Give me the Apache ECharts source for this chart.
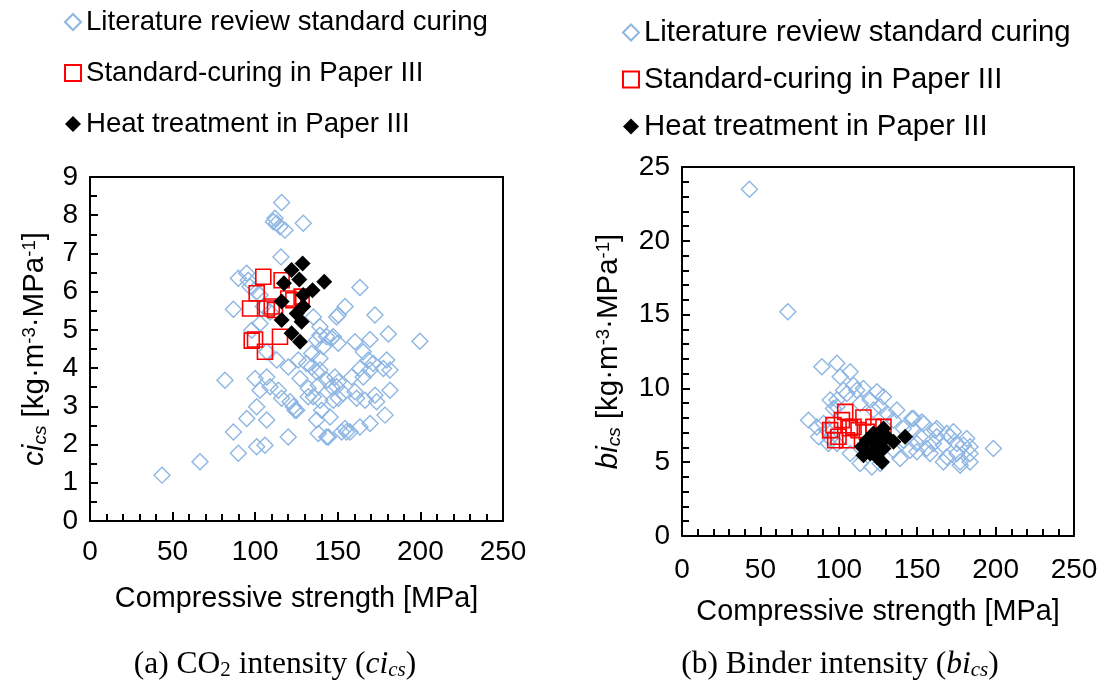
<!DOCTYPE html>
<html>
<head>
<meta charset="utf-8">
<script src="https://cdn.jsdelivr.net/npm/echarts@6/dist/echarts.min.js"></script>
<style>html,body{margin:0;padding:0;background:#fff}#c{width:1105px;height:686px}</style>
</head>
<body>
<div id="c"></div>
<script>
// ---- data ----
const seriesNames = ['Literature review standard curing', 'Standard-curing in Paper III', 'Heat treatment in Paper III'];
const xTicksMax = 250;

// (a) CO2 intensity: [compressive strength MPa, ci_cs]
const ciLiterature = [
  [43.6,1.2],[66.6,1.55],[81.7,3.68],[86.8,2.33],[89.8,1.77],[86.8,5.54],[89.8,6.35],[94.8,6.48],[95.8,6.3],[96.9,6.13],
  [100.9,6.0],[102.9,5.91],[104.9,5.61],[97.9,4.99],[102.9,5.17],[109,5.47],[94.9,2.68],[99.9,3.73],[100.9,2.99],[100.9,1.94],
  [102.9,3.42],[105.9,1.98],[107,3.77],[107,2.64],[107,4.43],[109,3.51],[112,7.92],[111,7.83],[113,7.79],[115,7.7],
  [118,7.61],[116,8.33],[129.1,7.79],[115.6,6.91],[113,4.21],[114,3.42],[116,3.21],[120,4.03],[120,2.2],[121.1,3.12],
  [123.1,2.99],[124.1,2.9],[125.1,2.9],[126.1,4.21],[127.1,3.73],[131.1,4.12],[132.1,3.47],[132.1,3.25],[134.2,4.03],[134.2,4.38],
  [135.2,5.34],[135.2,3.25],[137.2,4.73],[137.2,3.9],[137.2,2.64],[138.2,3.55],[138.2,2.29],[139.2,5.08],[139.2,4.25],[139.2,3.95],
  [139.2,3.16],[139.2,4.86],[140.2,2.9],[141.2,4.56],[143.3,4.82],[143.3,3.68],[143.3,2.2],[144.3,2.2],[145.3,2.72],[146.3,4.78],
  [146.3,3.51],[147.3,4.82],[147.3,3.16],[148.3,3.77],[149.3,5.34],[149.3,3.51],[150.3,4.65],[150.3,3.64],[150.3,3.21],[150.3,5.39],
  [152.3,2.33],[153.3,3.34],[154.4,2.42],[154.4,5.61],[155.3,2.33],[157.4,2.33],[158.4,3.77],[160.4,4.69],[160.4,3.38],[161.4,3.21],
  [163.4,3.99],[163.4,2.46],[163.4,6.11],[165.4,4.43],[165.4,3.77],[166.5,3.16],[168.5,4.21],[169.5,4.75],[169.5,3.95],[169.5,2.55],
  [171.5,4.12],[172.5,5.39],[172.5,3.29],[173.5,3.12],[177.6,3.99],[178.6,2.77],[179.6,4.21],[180.6,4.89],[181.6,3.95],[181.6,3.42],
  [199.7,4.7]
];
const ciStandard = [
  [104.9,6.39],[116,6.3],[100.9,5.96],[96.9,5.56],[107,5.56],[110,5.61],[112,5.52],[120,5.82],[123.1,5.78],[128.1,5.87],
  [99.9,4.75],[97.9,4.72],[105.9,4.43],[115,4.82]
];
const ciHeat = [
  [128.7,6.74],[122,6.57],[126.7,6.32],[117.4,6.22],[141.8,6.26],[134.7,6.04],[129.1,5.91],[116,5.74],[129.1,5.61],[125.1,5.43],
  [116,5.26],[128.1,5.21],[122,4.91],[127.1,4.69]
];

// (b) Binder intensity: [compressive strength MPa, bi_cs]
const biLiterature = [
  [43,23.5],[67.5,15.2],[89.2,11.47],[98.8,11.7],[107.3,11.13],[100.9,10.79],[109.4,10.22],[115.7,10.0],[124.3,9.77],[105.2,9.66],
  [98.8,9.21],[128.5,9.43],[137,8.53],[96.6,8.64],[80.7,7.85],[86,7.39],[87.1,6.72],[93.4,6.27],[147.6,7.96],[154,7.62],
  [162.5,7.29],[168.9,6.95],[173.1,7.06],[181.6,6.61],[179.5,6.15],[183.7,6.04],[183.7,5.59],[175.3,5.59],[168.9,5.36],[198.6,5.93],
  [166.7,6.15],[151.9,6.72],[141.2,6.49],[145.5,5.81],[156.1,5.93],[160.4,6.27],[141.2,7.29],[147.6,7.17],[134.9,7.85],[113.6,4.91],
  [111.5,9.88],[120,9.21],[126.4,8.75],[94.5,9.21],[98.8,8.75],[103,9.88],[113.6,8.98],[122.1,8.53],[130.7,8.3],[92.4,7.17],
  [90.3,7.62],[94.5,6.61],[98.8,6.27],[107.3,5.59],[134.9,5.81],[139.1,5.25],[126.4,4.91],[175.3,6.27],[171,6.72],[162.5,6.72],
  [183.7,5.02],[177.4,5.02],[158.2,5.59],[149.8,6.27],[146.6,7.96],[153,7.73],[161.4,7.17],[149.8,5.7],[121.1,4.68],[177.4,4.8],
  [166.7,5.02]
];
const biStandard = [
  [104.1,8.41],[115.7,8.03],[96.6,7.51],[102,7.85],[109.4,7.39],[128.5,7.39],[97.7,6.49],[105.2,6.49],[112.6,7.17],[122.1,7.39],
  [94.5,7.17],[117.9,7.06],[99.8,6.72],[107,7.3]
];
const biHeat = [
  [128.5,7.29],[142.3,6.72],[122.1,6.95],[117.9,6.49],[114.7,6.04],[124.3,6.15],[130.7,6.72],[134.9,6.38],[115.7,5.47],[120,5.59],
  [127.5,5.02],[124.3,5.36],[128.5,5.93],[125,6.6]
];

// ---- chart ----
const SANS = 'Liberation Sans, Arial, sans-serif';
const SERIF = 'Liberation Serif, Times New Roman, serif';
const chart = echarts.init(document.getElementById('c'), null, {renderer: 'canvas'});

function xAxis(gridIndex, nameGap, labelMargin) {
  return {
    gridIndex, type: 'value', position: 'bottom', min: 0, max: xTicksMax, interval: 50,
    name: 'Compressive strength [MPa]', nameLocation: 'middle', nameGap,
    nameTextStyle: {fontFamily: SANS, fontSize: 28.8, color: '#000'},
    axisLine: {show: true, onZero: false, lineStyle: {color: '#000', width: 2}},
    axisTick: {show: true, inside: true, length: 9, lineStyle: {color: '#000', width: 2}},
    minorTick: {show: true, splitNumber: 5, length: 7, lineStyle: {color: '#000', width: 2}},
    axisLabel: {fontFamily: SANS, fontSize: 28, color: '#000', margin: labelMargin},
    splitLine: {show: false}, z: 5
  };
}
function frameX(gridIndex) {
  return {
    gridIndex, type: 'value', position: 'top', min: 0, max: xTicksMax, interval: 50,
    axisLine: {show: true, onZero: false, lineStyle: {color: '#000', width: 2}},
    axisTick: {show: false}, minorTick: {show: false}, axisLabel: {show: false}, splitLine: {show: false}
  };
}
function yRich() {
  return {
    i: {fontFamily: SANS, fontSize: 29.5, fontStyle: 'italic', color: '#000'},
    isub: {fontFamily: SANS, fontSize: 19, fontStyle: 'italic', color: '#000', verticalAlign: 'bottom'},
    n: {fontFamily: SANS, fontSize: 29.5, color: '#000'},
    sup: {fontFamily: SANS, fontSize: 18.5, color: '#000', verticalAlign: 'top'}
  };
}
function yAxis(gridIndex, max, interval, minorSplit, sym, nameGap) {
  return {
    gridIndex, type: 'value', position: 'left', min: 0, max, interval,
    name: '{i|' + sym + '}{isub|cs}{n| [kg·m}{sup|-3}{n|·MPa}{sup|-1}{n|]}',
    nameLocation: 'middle', nameGap,
    nameTextStyle: {fontFamily: SANS, fontSize: 29.5, color: '#000', rich: yRich()},
    axisLine: {show: true, onZero: false, lineStyle: {color: '#000', width: 2}},
    axisTick: {show: true, inside: true, length: 8, lineStyle: {color: '#000', width: 2}},
    minorTick: {show: true, splitNumber: minorSplit, length: 7, lineStyle: {color: '#000', width: 2}},
    axisLabel: {fontFamily: SANS, fontSize: 28, color: '#000', margin: 12},
    splitLine: {show: false}, z: 5
  };
}
function frameY(gridIndex, max, interval) {
  return {
    gridIndex, type: 'value', position: 'right', min: 0, max, interval,
    axisLine: {show: true, onZero: false, lineStyle: {color: '#000', width: 2}},
    axisTick: {show: false}, minorTick: {show: false}, axisLabel: {show: false}, splitLine: {show: false}
  };
}
function scatters(idx, lit, std, heat) {
  return [
    {name: seriesNames[0], type: 'scatter', xAxisIndex: idx, yAxisIndex: idx, data: lit, symbol: 'diamond', symbolSize: 16,
      itemStyle: {color: 'rgba(255,255,255,0)', borderColor: '#8DB6E3', borderWidth: 1.4, opacity: 1}, z: 2},
    {name: seriesNames[1], type: 'scatter', xAxisIndex: idx, yAxisIndex: idx, data: std, symbol: 'rect', symbolSize: 15,
      itemStyle: {color: 'rgba(255,255,255,0)', borderColor: '#FF0000', borderWidth: 1.6, opacity: 1}, z: 3},
    {name: seriesNames[2], type: 'scatter', xAxisIndex: idx, yAxisIndex: idx, data: heat, symbol: 'diamond', symbolSize: 16,
      itemStyle: {color: '#000', borderColor: '#000', borderWidth: 0, opacity: 1}, z: 4}
  ];
}
function legend(left, top, gap, fs) {
  return {
    data: seriesNames, orient: 'vertical', left, top, itemGap: gap, itemWidth: 16, itemHeight: 16,
    padding: 0, selectedMode: false,
    textStyle: {fontFamily: SANS, fontSize: fs, color: '#000', lineHeight: Math.round(fs)}
  };
}

const capRich = {
  sub: {fontFamily: SERIF, fontSize: 21, color: '#000', verticalAlign: 'bottom'},
  it: {fontFamily: SERIF, fontSize: 31.5, fontStyle: 'italic', color: '#000'},
  itsub: {fontFamily: SERIF, fontSize: 21, fontStyle: 'italic', color: '#000', verticalAlign: 'bottom'},
  n: {fontFamily: SERIF, fontSize: 31.5, color: '#000'}
};

const option = {
  animation: false,
  backgroundColor: '#fff',
  grid: [
    {left: 90, top: 177, width: 413, height: 344, show: false},
    {left: 682, top: 167, width: 392, height: 369, show: false}
  ],
  xAxis: [xAxis(0, 64, 17), xAxis(1, 62, 20), frameX(0), frameX(1)],
  yAxis: [yAxis(0, 9, 1, 2, 'ci', 40), yAxis(1, 25, 5, 5, 'bi', 58), frameY(0, 9, 1), frameY(1, 25, 5)],
  legend: [legend(64, 8, 23, 27.6), legend(622, 18, 18, 29.3)],
  series: [].concat(scatters(0, ciLiterature, ciStandard, ciHeat), scatters(1, biLiterature, biStandard, biHeat)),
  graphic: [
    {type: 'text', x: 275, y: 665, style: {text: '{n|(a) CO}{sub|2}{n| intensity (}{it|ci}{itsub|cs}{n|)}', rich: capRich,
      font: '31.5px ' + SERIF, fill: '#000', align: 'center', textAlign: 'center', verticalAlign: 'middle', textVerticalAlign: 'middle'}},
    {type: 'text', x: 840, y: 665, style: {text: '{n|(b) Binder intensity (}{it|bi}{itsub|cs}{n|)}', rich: capRich,
      font: '31.5px ' + SERIF, fill: '#000', align: 'center', textAlign: 'center', verticalAlign: 'middle', textVerticalAlign: 'middle'}}
  ]
};
chart.setOption(option);
</script>
</body>
</html>
